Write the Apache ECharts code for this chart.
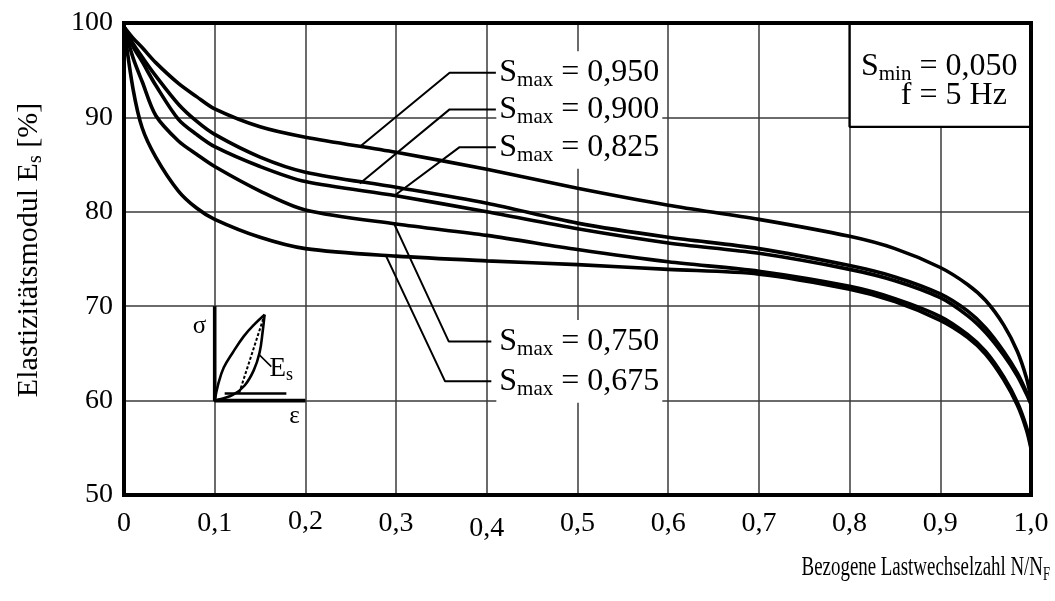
<!DOCTYPE html>
<html>
<head>
<meta charset="utf-8">
<script src="https://cdn.jsdelivr.net/npm/echarts@6/dist/echarts.min.js"></script>
<style>
  html, body { margin: 0; padding: 0; background: #fff; }
  #chart { width: 1055px; height: 601px; }
</style>
</head>
<body>
<div id="chart"></div>
<script>
const FONT = '"Liberation Serif", "Times New Roman", serif';

// Relative number of load cycles N/N_F at which the curves are sampled
const loadRatio = [0, 0.01, 0.02, 0.035, 0.06, 0.08, 0.1, 0.15, 0.2, 0.3, 0.4, 0.5, 0.6, 0.7, 0.8, 0.85, 0.9, 0.93, 0.95, 0.97, 0.985, 0.995, 1.0];

// Secant modulus E_s [%] for each upper stress level S_max
const modulus950 = [99.6, 98.4, 97.4, 95.8, 93.6, 92.2, 90.9, 89.0, 87.9, 86.3, 84.5, 82.5, 80.7, 79.2, 77.4, 76.1, 74.1, 72.3, 70.6, 68.0, 65.2, 62.4, 60.3];
const modulus900 = [99.6, 97.8, 96.4, 94.4, 91.4, 89.6, 88.2, 85.8, 84.2, 82.6, 80.9, 78.8, 77.3, 76.1, 74.3, 73.1, 71.3, 69.5, 67.7, 65.2, 62.9, 60.9, 59.8];
const modulus825 = [99.6, 97.5, 95.9, 93.4, 89.8, 88.2, 86.9, 84.8, 83.2, 81.7, 80.0, 78.2, 76.7, 75.6, 73.9, 72.7, 70.9, 69.0, 67.2, 64.8, 62.6, 60.7, 59.6];
const modulus750 = [99.6, 96.3, 93.8, 90.2, 87.5, 86.1, 84.8, 82.2, 80.2, 78.7, 77.5, 76.0, 74.7, 73.7, 72.1, 70.8, 68.9, 67.0, 65.2, 62.5, 59.8, 57.2, 55.2];
const modulus675 = [99.6, 93.0, 88.9, 85.8, 82.2, 80.4, 79.2, 77.3, 76.1, 75.3, 74.8, 74.4, 73.9, 73.4, 71.8, 70.5, 68.5, 66.7, 64.9, 62.2, 59.5, 56.9, 54.9];

const sMaxLevels = ['0,950', '0,900', '0,825', '0,750', '0,675'];
const curves = [modulus950, modulus900, modulus825, modulus750, modulus675];

// Axis ticks
const xTickLabels = ['0', '0,1', '0,2', '0,3', '0,4', '0,5', '0,6', '0,7', '0,8', '0,9', '1,0'];
const yTickLabels = ['50', '60', '70', '80', '90', '100'];

// Leader lines from each curve to its S_max label: curve point, elbow, label end
const leader950 = [[0.26, 86.9], [0.359, 94.74], [0.41, 94.74]];
const leader900 = [[0.26, 83.0], [0.359, 90.85], [0.41, 90.85]];
const leader825 = [[0.298, 81.7], [0.370, 86.85], [0.41, 86.85]];
const leader750 = [[0.298, 78.7], [0.358, 66.27], [0.405, 66.27]];
const leader675 = [[0.289, 75.3], [0.354, 62.04], [0.405, 62.04]];
const leaders = [leader950, leader900, leader825, leader750, leader675];
const labelAnchors = [[0.4105, 94.74], [0.4105, 90.85], [0.4105, 86.85], [0.4105, 66.27], [0.4105, 62.04]];

// Small stress-strain sketch explaining the secant modulus
const sketchAxes = [[0.1, 70], [0.1, 60], [0.2, 60]];
const loopLoading = [[0.1, 60], [0.104, 61.8], [0.11, 63.5], [0.12, 65.1], [0.132, 66.8], [0.144, 68.1], [0.155, 69.1]];
const loopUnloading = [[0.155, 69.1], [0.153, 67.4], [0.1495, 65.1], [0.143, 63.2], [0.133, 61.6], [0.12, 60.6], [0.103, 60.1]];
const secantLine = [[0.127, 60.8], [0.155, 69.1]];
const strainBase = [[0.111, 60.75], [0.179, 60.75]];
const secantPointer = [[0.1487, 64.9], [0.1624, 63.6]];
const sigmaPos = [0.0833, 67.9];
const epsilonPos = [0.188, 58.3];
const esPos = [0.1605, 63.4];

// Test condition box
const infoBox = [[0.8, 100], [1.0, 89.0]];
const infoBoxEdge = [[0.8, 100], [0.8, 89.0], [1.0, 89.0]];
const sMinPos = [0.8125, 95.4];
const freqPos = [0.8565, 92.35];
const sMinText = '0,050';
const freqText = '5 Hz';

const txt = (size, extra) => Object.assign({ fontFamily: FONT, fontSize: size, color: '#000' }, extra || {});
const subRich = {
  m: txt(32, { lineHeight: 37 }),
  sub: txt(21, { lineHeight: 23, verticalAlign: 'bottom' })
};

const series = [];

curves.forEach((vals, k) => {
  series.push({
    name: 'S_max ' + sMaxLevels[k],
    type: 'line',
    data: loadRatio.map((x, i) => [x, vals[i]]),
    showSymbol: false,
    smooth: 0.3,
    lineStyle: { color: '#000', width: 3.6 },
    z: 3,
    silent: true
  });
});

leaders.forEach(pts => {
  series.push({
    type: 'line', data: pts, showSymbol: false,
    lineStyle: { color: '#000', width: 2 }, z: 4, silent: true
  });
});

series.push({
  type: 'scatter',
  data: labelAnchors,
  symbolSize: 0,
  itemStyle: { opacity: 1 },
  z: 5,
  silent: true,
  label: {
    show: true,
    position: 'right',
    distance: 0,
    color: '#000',
    backgroundColor: '#fff',
    padding: [3, 3, 3, 3],
    formatter: p => '{m|S}{sub|max}{m| = ' + sMaxLevels[p.dataIndex] + '}',
    rich: subRich
  }
});

// Sketch lines
const sketchLine = (pts, width, extra) => Object.assign({
  type: 'line', data: pts, showSymbol: false, silent: true, z: 4,
  lineStyle: Object.assign({ color: '#000', width: width }, (extra && extra.lineStyle) || {})
}, extra && extra.smooth ? { smooth: extra.smooth } : {});

series.push(sketchLine(sketchAxes, 3.6));
series.push(sketchLine(loopLoading, 2.6, { smooth: 0.4 }));
series.push(sketchLine(loopUnloading, 2.6, { smooth: 0.4 }));
series.push(sketchLine(secantLine, 2, { lineStyle: { type: [3, 2] } }));
series.push(sketchLine(strainBase, 2.6));
series.push(sketchLine(secantPointer, 1.5));

// Info box with S_min and loading frequency
series.push({
  type: 'line', data: infoBoxEdge, showSymbol: false, silent: true, z: 6,
  lineStyle: { color: '#000', width: 2.4 },
  markArea: {
    silent: true,
    itemStyle: { color: '#fff', borderWidth: 0 },
    data: [[{ coord: infoBox[0] }, { coord: infoBox[1] }]]
  }
});

series.push({
  type: 'scatter',
  symbolSize: 0,
  itemStyle: { opacity: 1 },
  silent: true,
  z: 7,
  data: [
    { value: sigmaPos, label: { position: 'inside', formatter: 'σ', fontFamily: FONT, fontSize: 25, color: '#000' } },
    { value: epsilonPos, label: { position: 'inside', formatter: 'ε', fontFamily: FONT, fontSize: 25, color: '#000' } },
    { value: esPos, label: { position: 'right', distance: 0, formatter: '{e|E}{s|s}',
        rich: { e: txt(27, { lineHeight: 32 }), s: txt(18, { lineHeight: 20, verticalAlign: 'bottom' }) } } },
    { value: sMinPos, label: { position: 'right', distance: 0, formatter: '{m|S}{sub|min}{m| = ' + sMinText + '}', rich: subRich } },
    { value: freqPos, label: { position: 'right', distance: 0, formatter: '{m|f = ' + freqText + '}', rich: subRich } }
  ],
  label: { show: true, color: '#000' }
});

const chart = echarts.init(document.getElementById('chart'), null, { renderer: 'canvas' });

chart.setOption({
  animation: false,
  backgroundColor: '#fff',
  grid: {
    left: 124, right: 24, top: 23, bottom: 106,
    show: true, borderColor: '#000', borderWidth: 4, backgroundColor: 'transparent', z: 10
  },
  xAxis: {
    type: 'value', min: 0, max: 1, interval: 0.1,
    axisLine: { show: false }, axisTick: { show: false },
    splitLine: { show: true, lineStyle: { color: '#3a3a3a', width: 1.5 } },
    axisLabel: {
      margin: 13,
      color: '#000',
      formatter: v => {
        const i = Math.round(v * 10);
        const key = i === 4 ? 'low' : (i === 2 ? 'high' : 'n');
        return '{' + key + '|' + xTickLabels[i] + '}';
      },
      rich: {
        n: txt(28, { padding: [2, 0, 0, 0] }),
        high: txt(28),
        low: txt(28, { padding: [7, 0, 0, 0] })
      }
    }
  },
  yAxis: {
    type: 'value', min: 50, max: 100, interval: 10,
    axisLine: { show: false }, axisTick: { show: false },
    splitLine: { show: true, lineStyle: { color: '#3a3a3a', width: 1.5 } },
    axisLabel: {
      margin: 11, color: '#000', fontFamily: FONT, fontSize: 28,
      formatter: v => yTickLabels[Math.round((v - 50) / 10)]
    },
    name: '{a|Elastizitätsmodul E}{b|s}{a| [%]}',
    nameLocation: 'middle',
    nameGap: 78,
    nameTextStyle: {
      padding: [0, 0, 0, 18],
      rich: {
        a: txt(30, { lineHeight: 34 }),
        b: txt(20, { lineHeight: 23, verticalAlign: 'bottom' })
      }
    }
  },
  graphic: [{
    type: 'text',
    x: 1050,
    y: 552,
    scaleX: 0.7,
    silent: true,
    style: {
      text: '{a|Bezogene Lastwechselzahl N/N}{b|F}',
      align: 'right',
      verticalAlign: 'top',
      rich: {
        a: txt(27, { lineHeight: 32 }),
        b: txt(18, { lineHeight: 21, verticalAlign: 'bottom' })
      }
    }
  }],
  series: series
});
</script>
</body>
</html>
